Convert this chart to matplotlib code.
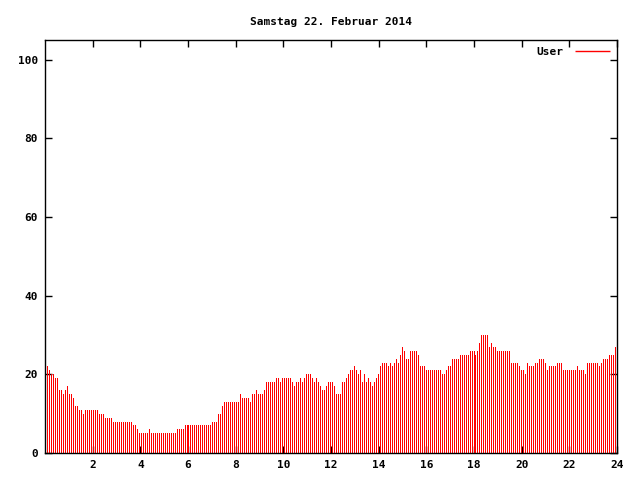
import numpy as np
import matplotlib
matplotlib.use("Agg")
import matplotlib.pyplot as plt

# CPU "User" load, one value every 5 minutes
user = [
    22, 21, 20, 20, 19, 19, 16, 16, 15, 16, 17, 15, 15, 14, 12, 12, 11, 11, 10, 11,
    11, 11, 11, 11, 11, 11, 10, 10, 10, 9, 9, 9, 9, 8, 8, 8, 8, 8, 8, 8,
    8, 8, 8, 7, 7, 6, 5, 5, 5, 5, 5, 6, 5, 5, 5, 5, 5,
    5, 5, 5, 5, 5, 5, 5, 5, 6, 6, 6, 6, 7, 7, 7, 7, 7, 7, 7, 7,
    7, 7, 7, 7, 7, 7, 8, 8, 8, 10, 10, 12, 13, 13, 13, 13, 13, 13, 13, 13,
    15, 14, 14, 14, 14, 13, 15, 15, 16, 15, 15, 15, 16, 18, 18, 18, 18, 18,
    19, 19, 18, 19, 19, 19, 19, 19, 18, 17, 18, 18, 19, 18, 19, 20, 20, 20, 19,
    18, 19, 18, 17, 16, 16, 17, 18, 18, 18, 17, 15, 15, 15, 18, 18, 19, 20, 21,
    21, 22, 21, 20, 21, 18, 20, 18, 19, 18, 17, 18, 19, 20, 22, 23, 23, 23, 22, 23,
    22, 23, 24, 23, 25, 27, 26, 24, 24, 26, 26, 26, 26, 25, 22, 22, 22,
    21, 21, 21, 21, 21, 21, 21, 21, 20, 20, 21, 22, 22, 24, 24, 24, 24,
    25, 25, 25, 25, 25, 26, 26, 26, 25, 26, 28, 30, 30, 30, 30, 27, 28, 27, 27,
    26, 26, 26, 26,
    26, 26, 26, 23, 23, 23, 23, 22, 21, 21, 20, 23, 22, 22, 22, 23, 23, 24, 24,
    24, 23, 21, 22, 22, 22, 22, 23, 23, 23, 21, 21, 21, 21, 21, 21, 21, 22, 21,
    21, 21, 20, 23, 23, 23, 23, 23, 23, 22, 23, 24, 24, 24, 25, 25, 25, 27, 26,
]
hours = np.arange(1, len(user) + 1) * 24.0 / len(user)

xticks = [2, 4, 6, 8, 10, 12, 14, 16, 18, 20, 22, 24]
yticks = [0, 20, 40, 60, 80, 100]

plt.rcParams['font.family'] = 'DejaVu Sans Mono'
plt.rcParams['font.weight'] = 'bold'
plt.rcParams['font.size'] = 8

fig = plt.figure(figsize=(6.4, 4.8), dpi=100)
ax = fig.add_axes([45 / 640, 1 - 453 / 480, 572 / 640, 413 / 480])

ax.vlines(hours, 0, user, color='#ff0000', lw=0.6, antialiased=False, label='User')

ax.set_xlim(0, 24)
ax.set_ylim(0, 105)
ax.set_xticks(xticks)
ax.set_yticks(yticks)
ax.tick_params(direction='in', length=5, width=1, top=True, right=True, pad=5)
for s in ax.spines.values():
    s.set_linewidth(1)

ax.set_title('Samstag 22. Februar 2014', fontsize=8, fontweight='bold', pad=11)

leg = ax.legend(loc='upper right', frameon=False, handlelength=3.2, handletextpad=1,
                borderaxespad=0.2, markerfirst=False)
for h in leg.get_lines():
    h.set_linewidth(1)

fig.savefig('out.png', dpi=100)
